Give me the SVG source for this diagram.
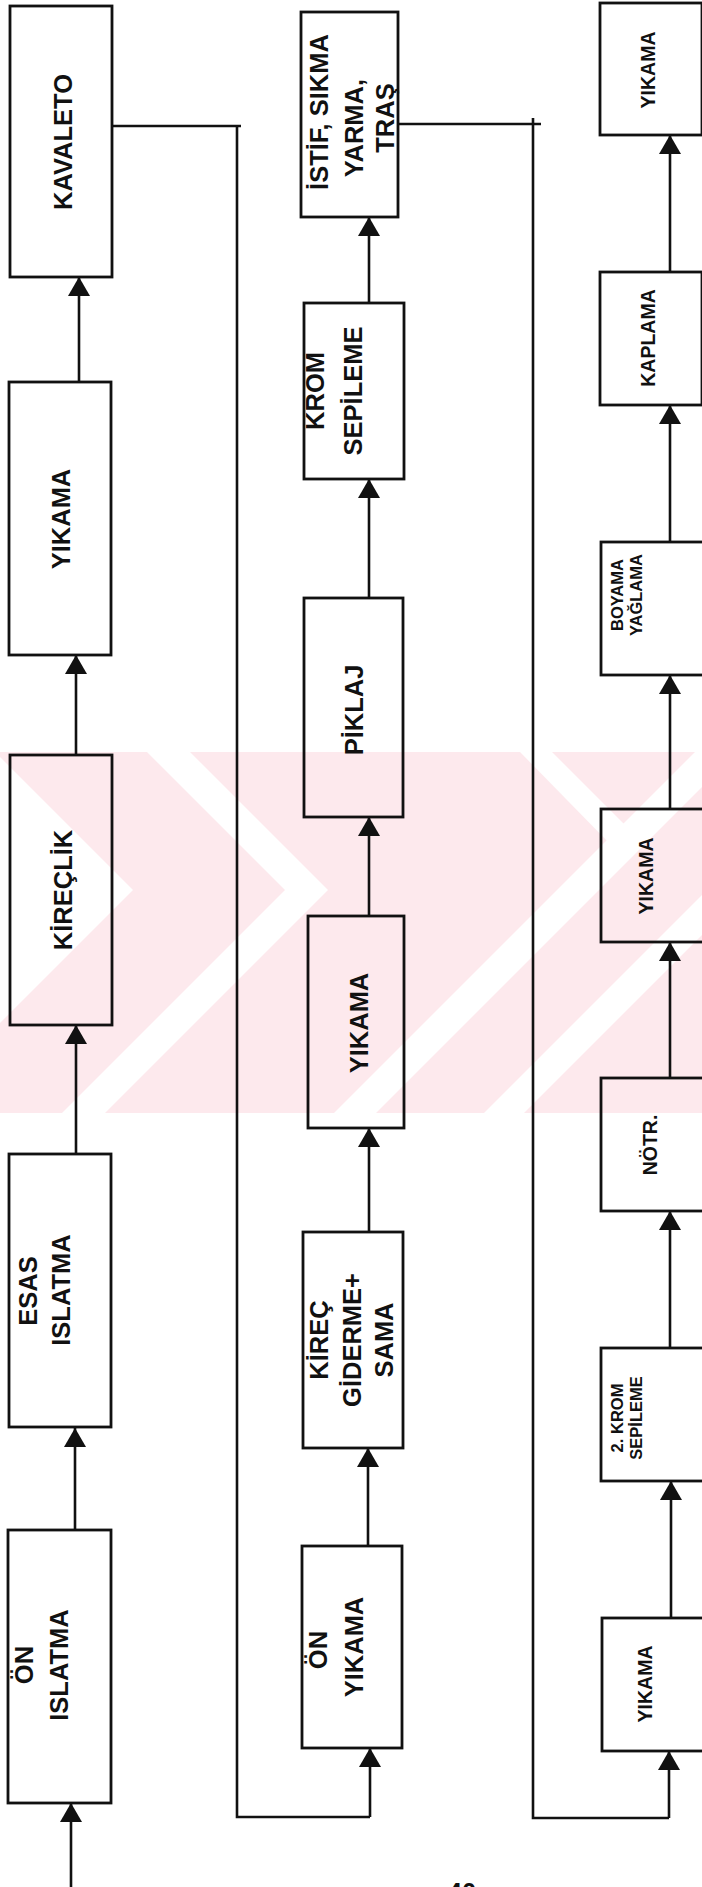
<svg xmlns="http://www.w3.org/2000/svg" width="702" height="1887" viewBox="0 0 702 1887">
<style>
.box{fill:none;stroke:#111;stroke-width:2.8}
.ln{fill:none;stroke:#111;stroke-width:2.6}
.t{font-family:"Liberation Sans",Arial,sans-serif;font-weight:bold;fill:#111;text-anchor:middle}
.big{font-size:25.5px}
.mid{font-size:19.5px}
.sm{font-size:16.5px}
.wm{fill:#fde9ed;stroke:none}
.wh{fill:#fff;stroke:none}
</style>
<defs>
<marker id="ah" markerUnits="userSpaceOnUse" markerWidth="20" markerHeight="22" refX="19" refY="11" orient="auto" viewBox="0 0 20 22">
<path d="M0,0 L19,11 L0,22 z" fill="#111"/>
</marker>
</defs>
<rect width="702" height="1887" fill="#fff"/>
<g id="watermark">
<rect class="wm" x="0" y="752" width="702" height="361"/>
<polygon class="wh" points="0,757 133,890 0,1023"/>
<polygon class="wh" points="147,752 190,752 328,890 105,1113 62,1113 285,890"/>
<polygon class="wh" points="334,1113 376,1113 702,787 702,752 695,752"/>
<polygon class="wh" points="484,1113 524,1113 702,935 702,895"/>
<polygon class="wh" points="520,752 552,752 628,828 612,846"/>
</g>
<g id="connectors">
<line class="ln" x1="71" y1="1887" x2="71" y2="1803" marker-end="url(#ah)"/>
<line class="ln" x1="75" y1="1530" x2="75" y2="1428" marker-end="url(#ah)"/>
<line class="ln" x1="76" y1="1154" x2="76" y2="1025" marker-end="url(#ah)"/>
<line class="ln" x1="76" y1="755" x2="76" y2="655" marker-end="url(#ah)"/>
<line class="ln" x1="79" y1="382" x2="79" y2="277" marker-end="url(#ah)"/>
<polyline class="ln" points="112,126 241,126"/>
<polyline class="ln" points="237,126 237,1817 370,1817"/>
<line class="ln" x1="370" y1="1817" x2="370" y2="1748" marker-end="url(#ah)"/>
<line class="ln" x1="368" y1="1546" x2="368" y2="1448" marker-end="url(#ah)"/>
<line class="ln" x1="369" y1="1232" x2="369" y2="1128" marker-end="url(#ah)"/>
<line class="ln" x1="369" y1="916" x2="369" y2="817" marker-end="url(#ah)"/>
<line class="ln" x1="369" y1="598" x2="369" y2="479" marker-end="url(#ah)"/>
<line class="ln" x1="369" y1="303" x2="369" y2="217" marker-end="url(#ah)"/>
<polyline class="ln" points="398,124 541,124"/>
<polyline class="ln" points="533,118 533,1818 669,1818"/>
<line class="ln" x1="669" y1="1818" x2="669" y2="1751" marker-end="url(#ah)"/>
<line class="ln" x1="671" y1="1618" x2="671" y2="1481" marker-end="url(#ah)"/>
<line class="ln" x1="670" y1="1348" x2="670" y2="1211" marker-end="url(#ah)"/>
<line class="ln" x1="670" y1="1078" x2="670" y2="942" marker-end="url(#ah)"/>
<line class="ln" x1="670" y1="809" x2="670" y2="675" marker-end="url(#ah)"/>
<line class="ln" x1="670" y1="542" x2="670" y2="405" marker-end="url(#ah)"/>
<line class="ln" x1="670" y1="272" x2="670" y2="135" marker-end="url(#ah)"/>
</g>
<g id="n-kavaleto"><rect class="box" x="10" y="6" width="102" height="271"/>
<text class="t big" transform="rotate(-90)"><tspan x="-142" y="72">KAVALETO</tspan></text></g>
<g id="n-yikama1"><rect class="box" x="9" y="382" width="102" height="273"/>
<text class="t big" transform="rotate(-90)"><tspan x="-519" y="70">YIKAMA</tspan></text></g>
<g id="n-kireclik"><rect class="box" x="10" y="755" width="102" height="270"/>
<text class="t big" transform="rotate(-90)"><tspan x="-890" y="72">KİREÇLİK</tspan></text></g>
<g id="n-esas"><rect class="box" x="9" y="1154" width="102" height="273"/>
<text class="t big" transform="rotate(-90)"><tspan x="-1291" y="37">ESAS</tspan><tspan x="-1290" y="70">ISLATMA</tspan></text></g>
<g id="n-onislatma"><rect class="box" x="8" y="1530" width="103" height="273"/>
<text class="t big" transform="rotate(-90)"><tspan x="-1665" y="33">ÖN</tspan><tspan x="-1665" y="68">ISLATMA</tspan></text></g>
<g id="n-istif"><rect class="box" x="301" y="12" width="97" height="205"/>
<text class="t big" transform="rotate(-90)"><tspan x="-112" y="328">İSTİF, SIKMA</tspan><tspan x="-128" y="363">YARMA,</tspan><tspan x="-118" y="394">TRAŞ</tspan></text></g>
<g id="n-krom"><rect class="box" x="304" y="303" width="100" height="176"/>
<text class="t big" transform="rotate(-90)"><tspan x="-391" y="324">KROM</tspan><tspan x="-391" y="362">SEPİLEME</tspan></text></g>
<g id="n-piklaj"><rect class="box" x="304" y="598" width="99" height="219"/>
<text class="t big" transform="rotate(-90)"><tspan x="-710" y="363">PİKLAJ</tspan></text></g>
<g id="n-yikama2"><rect class="box" x="308" y="916" width="96" height="212"/>
<text class="t big" transform="rotate(-90)"><tspan x="-1023" y="368">YIKAMA</tspan></text></g>
<g id="n-kirecgiderme"><rect class="box" x="303" y="1232" width="100" height="216"/>
<text class="t big" transform="rotate(-90)"><tspan x="-1340" y="328">KİREÇ</tspan><tspan x="-1340" y="361">GİDERME+</tspan><tspan x="-1340" y="393">SAMA</tspan></text></g>
<g id="n-onyikama"><rect class="box" x="302" y="1546" width="100" height="202"/>
<text class="t big" transform="rotate(-90)"><tspan x="-1650" y="327">ÖN</tspan><tspan x="-1647" y="363">YIKAMA</tspan></text></g>
<g id="n-yikama3"><rect class="box" x="600" y="3" width="102" height="132"/>
<text class="t mid" transform="rotate(-90)"><tspan x="-70" y="655">YIKAMA</tspan></text></g>
<g id="n-kaplama"><rect class="box" x="600" y="272" width="102" height="133"/>
<text class="t mid" transform="rotate(-90)"><tspan x="-338" y="655">KAPLAMA</tspan></text></g>
<g id="n-boyama"><rect class="box" x="601" y="542" width="104" height="133"/>
<text class="t sm" transform="rotate(-90)"><tspan x="-595" y="623">BOYAMA</tspan><tspan x="-595" y="642">YAĞLAMA</tspan></text></g>
<g id="n-yikama4"><rect class="box" x="601" y="809" width="104" height="133"/>
<text class="t mid" transform="rotate(-90)"><tspan x="-876" y="653">YIKAMA</tspan></text></g>
<g id="n-notr"><rect class="box" x="601" y="1078" width="104" height="133"/>
<text class="t mid" transform="rotate(-90)"><tspan x="-1145" y="657">NÖTR.</tspan></text></g>
<g id="n-krom2"><rect class="box" x="601" y="1348" width="104" height="133"/>
<text class="t sm" transform="rotate(-90)"><tspan x="-1418" y="623">2. KROM</tspan><tspan x="-1418" y="642">SEPİLEME</tspan></text></g>
<g id="n-yikama5"><rect class="box" x="602" y="1618" width="104" height="133"/>
<text class="t mid" transform="rotate(-90)"><tspan x="-1684" y="652">YIKAMA</tspan></text></g>
<text class="t big" x="462" y="1901">40</text>
</svg>
